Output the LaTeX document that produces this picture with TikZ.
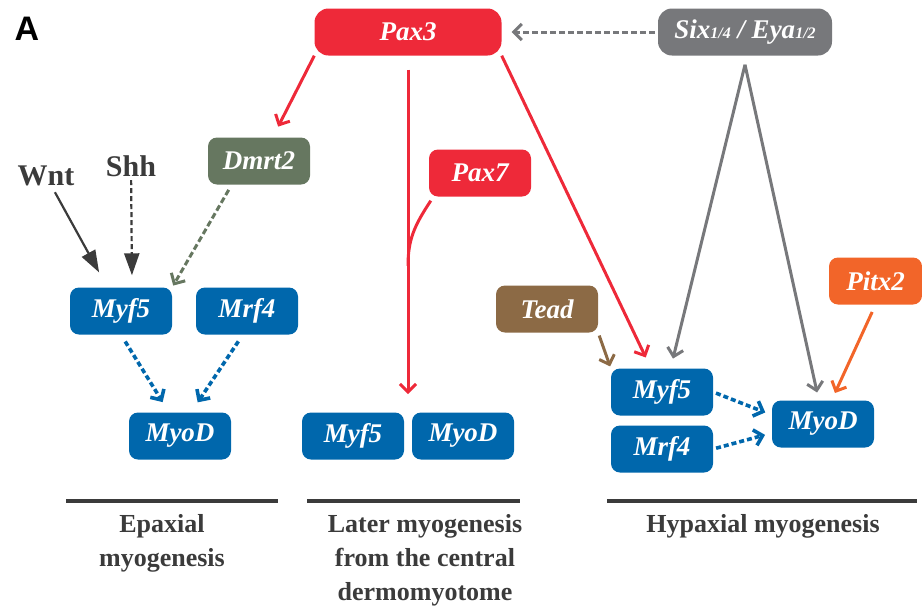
\documentclass[tikz,border=0pt]{standalone}
\usepackage{fontspec}
\setmainfont{Liberation Serif}
\newfontfamily\panelfont{Liberation Sans}
\usetikzlibrary{arrows.meta}
\definecolor{g1}{HTML}{EE2939}
\definecolor{g2}{HTML}{77787B}
\definecolor{g3}{HTML}{667760}
\definecolor{g4}{HTML}{0067AC}
\definecolor{g5}{HTML}{8C6A45}
\definecolor{g6}{HTML}{F26529}
\definecolor{g7}{HTML}{3B3B3B}

\begin{document}
\begin{tikzpicture}[x=1pt,y=-1pt,
  gene/.style={rounded corners=9pt, minimum width=102pt, minimum height=47pt, inner sep=0pt,
    text=white, font=\fontsize{27}{28}\selectfont\bfseries\itshape},
  link/.style={line width=3pt, -{Straight Barb[length=8pt,width=16pt]}},
  dlink/.style={link, dash pattern=on 6pt off 3pt},
  blink/.style={dlink, draw=g4, line width=3.6pt, dash pattern=on 5pt off 3pt},
  signal/.style={line width=2.2pt, draw=g7, -{Triangle[length=22pt,width=15pt]}},
  cue/.style={text=g7, font=\fontsize{30}{30}\selectfont\bfseries},
  group/.style={text=g7, font=\fontsize{26}{34}\selectfont\bfseries, align=center, anchor=north, inner sep=0pt},
  rule/.style={draw=g7, line width=3.4pt}]
\useasboundingbox (0,0) rectangle (922,611);

\node[text=black, font=\panelfont\fontsize{34}{34}\selectfont\bfseries] (panel) at (27,29) {A};

\node[gene, fill=g1, minimum width=187pt, rounded corners=14pt] (pax3) at (408,32) {Pax3};
\node[gene, fill=g2, minimum width=174pt, rounded corners=14pt] (six) at (745,32)
  {Six{\fontsize{16}{16}\selectfont 1/4} / Eya{\fontsize{16}{16}\selectfont 1/2}};
\node[gene, fill=g3] (dmrt2) at (259,161) {Dmrt2};
\node[gene, fill=g1] (pax7) at (480,173) {Pax7};
\node[cue] (wnt) at (46,176) {Wnt};
\node[cue] (shh) at (131,166) {Shh};

\node[gene, fill=g4] (myf5a) at (121,311) {Myf5};
\node[gene, fill=g4] (mrf4a) at (247,311) {Mrf4};
\node[gene, fill=g4] (myoda) at (180,436) {MyoD};

\node[gene, fill=g4] (myf5b) at (353,436) {Myf5};
\node[gene, fill=g4] (myodb) at (463,436) {MyoD};

\node[gene, fill=g5] (tead) at (547,309) {Tead};
\node[gene, fill=g6, minimum width=93pt] (pitx2) at (875.5,281) {Pitx2};
\node[gene, fill=g4] (myf5c) at (662,392) {Myf5};
\node[gene, fill=g4] (mrf4c) at (662,449) {Mrf4};
\node[gene, fill=g4] (myodc) at (823,424) {MyoD};

\coordinate (top) at ([yshift=-14pt]pax3.south);
\coordinate (join) at (408,266);
\coordinate (tip) at (408,394);
\coordinate (apex) at ([yshift=-9pt]six.south);

% Pax3 and Pax7
\draw[link, g1, shorten >=12pt] (pax3.south west) -- (dmrt2.60);
\draw[link, g1] (top) -- (tip);
\draw[g1, line width=3pt] ([shift={(2pt,-4pt)}]pax7.south west) .. controls (414,226) and (408,240) .. (join);
\draw[link, g1, shorten >=12pt] (pax3.south east) -- (myf5c.115);

% Six/Eya
\draw[dlink, g2, shorten >=10pt, shorten <=3pt] (six.west) -- (pax3.east);
\draw[link, g2, shorten >=10pt] (apex) -- (myf5c.70);
\draw[link, g2, shorten >=8pt] (apex) -- (myodc.100);

\draw[link, g6, shorten <=8pt, shorten >=8pt] (pitx2.south) -- (myodc.70);
\draw[link, g5, shorten <=3pt, shorten >=2pt] (tead.south east) -- (myf5c.north west);

% epaxial
\draw[signal, shorten <=3pt, shorten >=17pt] (wnt) -- (myf5a.120);
\draw[signal, dash pattern=on 5pt off 3pt, shorten >=12pt] (shh) -- (myf5a.65);
\draw[dlink, g3, shorten <=6pt, shorten >=2pt] (dmrt2.-139) -- (myf5a.north east);
\draw[blink, shorten <=8pt, shorten >=12pt] (myf5a.south) -- (myoda.115);
\draw[blink, shorten <=8pt, shorten >=12pt] (mrf4a.-100) -- (myoda.65);

% hypaxial
\draw[blink, shorten <=3pt, shorten >=7pt] (myf5c.east) -- (myodc.170);
\draw[blink, shorten <=3pt, shorten >=7pt] (mrf4c.east) -- (myodc.190);

\draw[rule] (66,501) -- (278,501);
\draw[rule] (307,501) -- (520,501);
\draw[rule] (607,501) -- (917,501);

\node[group] (epax) at (162,514) {Epaxial\\myogenesis};
\node[group] (later) at (425,514) {Later myogenesis\\from the central\\dermomyotome};
\node[group] (hypax) at (763,514) {Hypaxial myogenesis};
\end{tikzpicture}
\end{document}
